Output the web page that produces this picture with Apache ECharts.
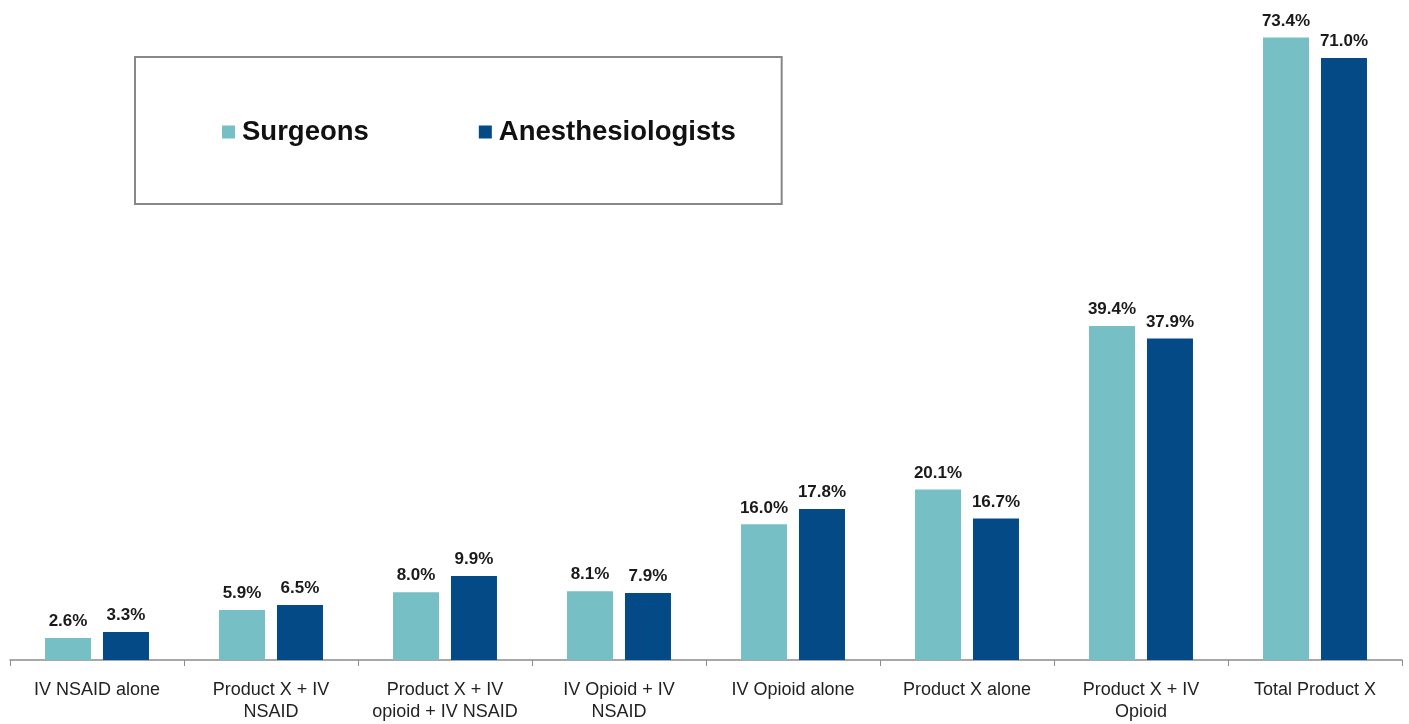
<!DOCTYPE html>
<html>
<head>
<meta charset="utf-8">
<script src="https://cdn.jsdelivr.net/npm/echarts@6/dist/echarts.min.js"></script>
<style>
  html, body { margin: 0; padding: 0; background: #fff; }
  #main { width: 1409px; height: 724px; }
</style>
</head>
<body>
<div id="main"></div>
<script>
const categories = [
  'IV NSAID alone',
  'Product X + IV\nNSAID',
  'Product X + IV\nopioid + IV NSAID',
  'IV Opioid + IV\nNSAID',
  'IV Opioid alone',
  'Product X alone',
  'Product X + IV\nOpioid',
  'Total Product X'
];
const surgeons = [2.6, 5.9, 8.0, 8.1, 16.0, 20.1, 39.4, 73.4];
const anesthesiologists = [3.3, 6.5, 9.9, 7.9, 17.8, 16.7, 37.9, 71.0];

const chart = echarts.init(document.getElementById('main'));

const labelStyle = {
  show: true,
  position: 'top',
  distance: 8,
  color: '#1a1a1a',
  fontFamily: 'Liberation Sans',
  fontWeight: 'bold',
  fontSize: 17,
  formatter: p => p.value.toFixed(1) + '%'
};

const option = {
  backgroundColor: '#fff',
  animation: false,
  legend: {
    left: 135,
    top: 57,
    padding: [61, 46, 58, 87],
    borderColor: '#888',
    borderWidth: 2,
    itemWidth: 13,
    itemHeight: 13,
    itemGap: 110,
    icon: 'rect',
    textStyle: {
      fontFamily: 'Liberation Sans',
      fontWeight: 'bold',
      fontSize: 27.5,
      color: '#111',
      padding: [0, 0, 0, 2]
    },
    data: ['Surgeons', 'Anesthesiologists']
  },
  grid: {
    left: 10,
    right: 7,
    top: 24,
    bottom: 64
  },
  xAxis: {
    type: 'category',
    data: categories,
    axisLine: { lineStyle: { color: '#8c8c8c', width: 1.5 } },
    axisTick: { show: true, length: 6, lineStyle: { color: '#8c8c8c' } },
    axisLabel: {
      interval: 0,
      margin: 19,
      color: '#222',
      fontFamily: 'Liberation Sans',
      fontSize: 18,
      lineHeight: 22
    }
  },
  yAxis: {
    type: 'value',
    min: 0,
    max: 75,
    show: false,
    splitLine: { show: false }
  },
  series: [
    {
      name: 'Surgeons',
      type: 'bar',
      data: surgeons,
      barWidth: 46,
      barGap: '26%',
      itemStyle: { color: '#76BFC5' },
      label: labelStyle
    },
    {
      name: 'Anesthesiologists',
      type: 'bar',
      data: anesthesiologists,
      barWidth: 46,
      itemStyle: { color: '#034A86' },
      label: labelStyle
    }
  ]
};

chart.setOption(option);
</script>
</body>
</html>
